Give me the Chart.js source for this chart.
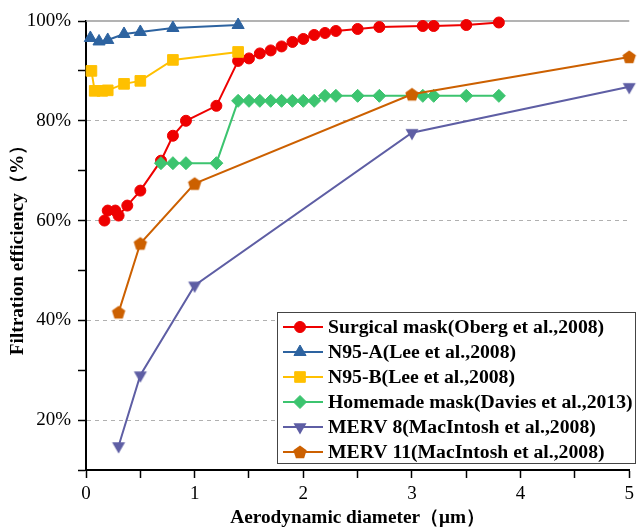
<!DOCTYPE html>
<html>
<head>
<meta charset="utf-8">
<script src="https://cdn.jsdelivr.net/npm/chart.js@4/dist/chart.umd.min.js"></script>
<style>
  html, body { margin: 0; padding: 0; background: #fff; }
  #c { display: block; }
</style>
</head>
<body>
<canvas id="c" width="639" height="528"></canvas>
<script>
// ---------- data ----------
const seriesLabels = [
  'Surgical mask(Oberg et al.,2008)',
  'N95-A(Lee et al.,2008)',
  'N95-B(Lee et al.,2008)',
  'Homemade mask(Davies et al.,2013)',
  'MERV 8(MacIntosh et al.,2008)',
  'MERV 11(MacIntosh et al.,2008)'
];
const surgicalX = [0.17,0.2,0.27,0.3,0.38,0.5,0.69,0.8,0.92,1.2,1.4,1.5,1.6,1.7,1.8,1.9,2.0,2.1,2.2,2.3,2.5,2.7,3.1,3.2,3.5,3.8];
const surgicalY = [60,62,62,61,63,66,72,77,80,83,92,92.5,93.5,94.1,94.9,95.8,96.4,97.2,97.6,98,98.4,98.8,99,99,99.2,99.7];
const n95aX = [0.04,0.12,0.2,0.35,0.5,0.8,1.4];
const n95aY = [96.6,95.9,96.2,97.4,97.8,98.6,99.2];
const n95bX = [0.05,0.08,0.15,0.2,0.35,0.5,0.8,1.4];
const n95bY = [90,86,86,86.1,87.4,88,92.2,93.8];
const homeX = [0.69,0.8,0.92,1.2,1.4,1.5,1.6,1.7,1.8,1.9,2.0,2.1,2.2,2.3,2.5,2.7,3.1,3.2,3.5,3.8];
const homeY = [71.5,71.5,71.5,71.5,84,84,84,84,84,84,84,84,85,85,85,85,85,85,85,85];
const merv8X = [0.3,0.5,1.0,3.0,5.0];
const merv8Y = [14.8,29,47,77.6,86.8];
const merv11X = [0.3,0.5,1.0,3.0,5.0];
const merv11Y = [41.6,55.4,67.4,85.3,92.8];
const xTickValues = [0,1,2,3,4,5];
const yTickValues = [20,40,60,80,100];

// ---------- styling ----------
const colors = ['#ee0000','#2d63a0','#ffc000','#3cc46f','#5e5ea4','#cc6000'];
const serif = '"Liberation Serif", "Times New Roman", serif';

function makeMarker(kind, color) {
  const s = 16;
  const c = document.createElement('canvas');
  c.width = s; c.height = s;
  const g = c.getContext('2d');
  g.fillStyle = color;
  g.beginPath();
  const cx = s / 2, cy = s / 2;
  if (kind === 'down') {
    const r = 7.5;
    for (let k = 0; k < 3; k++) {
      const a = Math.PI / 2 + k * 2 * Math.PI / 3;
      const px = cx + r * Math.cos(a), py = cy + r * Math.sin(a);
      if (k === 0) g.moveTo(px, py); else g.lineTo(px, py);
    }
  } else {
    const r = 7;
    for (let k = 0; k < 5; k++) {
      const a = -Math.PI / 2 + k * 2 * Math.PI / 5;
      const px = cx + r * Math.cos(a), py = cy + 0.5 + r * Math.sin(a);
      if (k === 0) g.moveTo(px, py); else g.lineTo(px, py);
    }
  }
  g.closePath();
  g.fill();
  return c;
}

const pointStyles = ['circle','triangle','rect','rectRot', makeMarker('down', colors[4]), makeMarker('pent', colors[5])];
const pointRadii = [5.5, 7, 7.5, 6.5, 8, 8];
const xs = [surgicalX, n95aX, n95bX, homeX, merv8X, merv11X];
const ys = [surgicalY, n95aY, n95bY, homeY, merv8Y, merv11Y];

const datasets = seriesLabels.map((lab, i) => ({
  label: lab,
  data: xs[i].map((x, j) => ({ x: x, y: ys[i][j] })),
  borderColor: colors[i],
  backgroundColor: colors[i],
  borderWidth: 2,
  pointStyle: pointStyles[i],
  pointRadius: pointRadii[i],
  pointHoverRadius: pointRadii[i],
  pointBorderWidth: 1,
  pointBorderColor: colors[i],
  pointBackgroundColor: colors[i],
  tension: 0,
  fill: false,
  clip: false,
  order: 6 - i
}));

// top frame line
const topLine = {
  id: 'topLine',
  beforeDatasetsDraw(chart) {
    const { ctx, chartArea } = chart;
    ctx.save();
    ctx.strokeStyle = '#9a9a9a';
    ctx.lineWidth = 1.5;
    ctx.beginPath();
    ctx.moveTo(chartArea.left, chartArea.top);
    ctx.lineTo(chartArea.right, chartArea.top);
    ctx.stroke();
    ctx.restore();
  }
};

// legend box inside chart area
const boxLegend = {
  id: 'boxLegend',
  afterDraw(chart) {
    const { ctx } = chart;
    const left = 277, top = 312, right = 636, bottom = 464;
    ctx.save();
    ctx.fillStyle = '#fff';
    ctx.fillRect(left, top, right - left, bottom - top);
    ctx.strokeStyle = '#444';
    ctx.lineWidth = 1;
    ctx.strokeRect(left + 0.5, top + 0.5, right - left - 1, bottom - top - 1);
    ctx.font = 'bold 19.7px ' + serif;
    ctx.textBaseline = 'middle';
    ctx.textAlign = 'left';
    chart.data.datasets.forEach((ds, i) => {
      const y = 327 + i * 25;
      ctx.strokeStyle = ds.borderColor;
      ctx.lineWidth = 2;
      ctx.beginPath();
      ctx.moveTo(283, y);
      ctx.lineTo(323, y);
      ctx.stroke();
      if (Chart.helpers && Chart.helpers.drawPoint) {
        ctx.fillStyle = ds.pointBackgroundColor;
        ctx.strokeStyle = ds.pointBorderColor;
        ctx.lineWidth = 1;
        Chart.helpers.drawPoint(ctx, {
          pointStyle: ds.pointStyle, radius: ds.pointRadius, rotation: 0, borderWidth: 1
        }, 300, y);
      }
      ctx.fillStyle = '#000';
      ctx.fillText(ds.label, 328, y + 1);
    });
    ctx.restore();
  }
};

new Chart(document.getElementById('c'), {
  type: 'line',
  data: { datasets: datasets },
  plugins: [topLine, boxLegend],
  options: {
    responsive: false,
    devicePixelRatio: 1,
    animation: false,
    layout: { padding: { top: 21, right: 8, left: 0, bottom: 0 } },
    plugins: { legend: { display: false }, tooltip: { enabled: false } },
    scales: {
      x: {
        type: 'linear',
        min: 0, max: 5,
        afterFit: s => { s.height = 58; },
        afterBuildTicks: s => {
          const t = [];
          for (let v = 0; v <= 10; v++) t.push({ value: v / 2 });
          s.ticks = t;
        },
        ticks: {
          color: '#000',
          font: { family: serif, size: 19 },
          padding: 5,
          maxRotation: 0,
          autoSkip: false,
          callback: v => xTickValues.includes(v) ? String(v) : ''
        },
        grid: {
          drawOnChartArea: false,
          tickLength: 8,
          tickColor: '#000',
          tickWidth: 1.5
        },
        border: { color: '#000', width: 2 },
        title: {
          display: true,
          text: 'Aerodynamic diameter（μm）',
          color: '#000',
          font: { family: serif, size: 19.3, weight: 'bold', lineHeight: 1 },
          padding: { top: 0, bottom: 0 }
        }
      },
      y: {
        type: 'linear',
        min: 10, max: 100,
        afterFit: s => { s.width = 86; },
        afterBuildTicks: s => {
          const t = [];
          for (let v = 10; v <= 100; v += 10) t.push({ value: v });
          s.ticks = t;
        },
        ticks: {
          color: '#000',
          font: { family: serif, size: 19 },
          padding: 7,
          autoSkip: false,
          callback: v => yTickValues.includes(v) ? v + '%' : ''
        },
        grid: {
          color: ctx => (ctx.tick && [20,40,60,80].includes(ctx.tick.value)) ? '#b0b0b0' : 'rgba(0,0,0,0)',
          lineWidth: 1,
          tickLength: 8,
          tickColor: '#000',
          tickWidth: 1.5
        },
        border: { color: '#000', width: 2, dash: [4, 4] },
        title: {
          display: true,
          text: 'Filtration efficiency（%）',
          color: '#000',
          font: { family: serif, size: 19.3, weight: 'bold', lineHeight: 1 },
          padding: { top: 8, bottom: 0 }
        }
      }
    }
  }
});
</script>
</body>
</html>
